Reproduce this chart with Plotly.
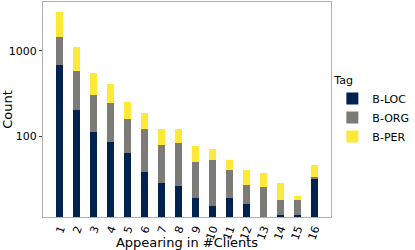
import plotly.graph_objects as go

categories = [str(i) for i in range(1, 17)]
b_loc = [692, 205, 111, 85, 64, 38, 28, 26, 19, 15, 19, 16, 9, 12, 12, 31]
b_org = [767, 378, 194, 161, 94, 82, 50, 56, 31, 38, 21, 11, 16, 6, 6, 2]
b_per = [1386, 521, 253, 161, 93, 65, 43, 38, 26, 18, 12, 13, 12, 10, 2, 13]
y_ticks = [100, 1000]

series = [("B-LOC", b_loc, "#00224E"), ("B-ORG", b_org, "#7C7B78"), ("B-PER", b_per, "#FEE838")]

fig = go.Figure()
for name, vals, col in series:
    fig.add_trace(go.Bar(x=categories, y=vals, name=name, marker_color=col,
                         marker_line_width=0, width=0.41))

font = dict(family="DejaVu Sans", size=11, color="#000000")
fig.update_layout(
    barmode="stack",
    width=415, height=250,
    margin=dict(l=43, r=83, t=2, b=33),
    paper_bgcolor="white", plot_bgcolor="white",
    font=font,
    legend=dict(title=dict(text="Tag", font=font), x=1.285, y=0.495, yanchor="middle",
                xanchor="right", font=font, traceorder="normal", itemwidth=30,
                tracegroupgap=0, bgcolor="rgba(0,0,0,0)"),
)
fig.update_xaxes(type="category", range=[-1, 15.97], tickangle=-70, showline=True,
                 linecolor="#b0b0b0", linewidth=1, mirror=True, showgrid=False,
                 ticks="", ticklabelstandoff=0, automargin=False,
                 title=dict(text="Appearing in #Clients", standoff=0),
                 tickfont=font)
fig.update_yaxes(type="log", range=[1.05, 3.575], tickvals=y_ticks, ticktext=[str(v) for v in y_ticks],
                 showline=True, linecolor="#b0b0b0", linewidth=1, mirror=True, showgrid=False,
                 ticks="outside", ticklen=3, tickcolor="#444", automargin=False,
                 title=dict(text="Count", standoff=4),
                 tickfont=font)
fig.write_html("out.html", config={"displayModeBar": False},
               post_script="document.body.style.margin='0px';")
